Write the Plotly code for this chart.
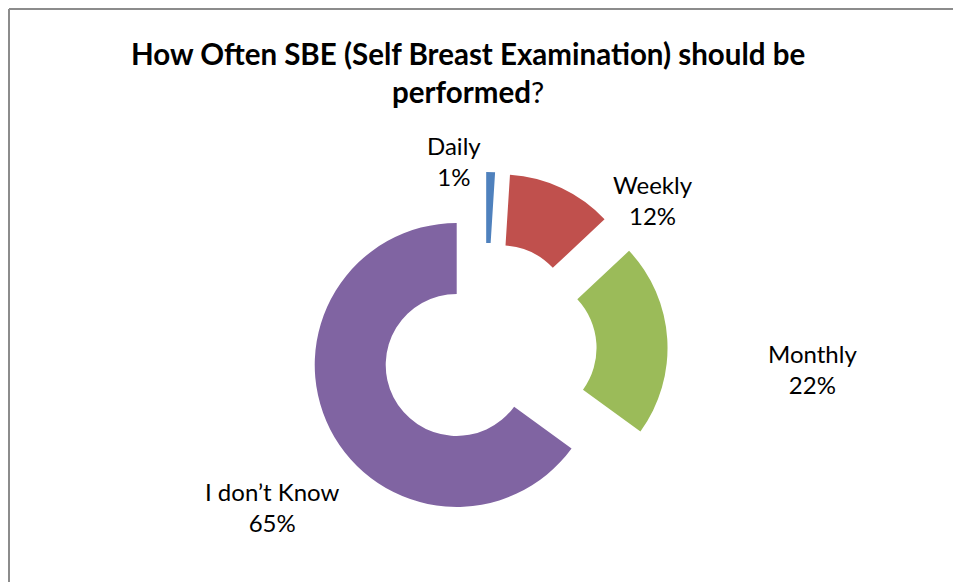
import plotly.graph_objects as go

categories = ["Daily", "Weekly", "Monthly", "I don\u2019t Know"]
values = [1, 12, 22, 65]
colors = ["#4F81BD", "#C0504D", "#9BBB59", "#8064A2"]
explode = [0.258, 0.265, 0.286, 0.224]

W, H = 961, 582
OFF = 8  # page body margin of the browser


def px(x):
    return (x - OFF) / W


def py(y):
    return 1 - (y - OFF) / H


# label centres in page pixels
label_pos = [(454, 161), (653, 200), (812, 369), (272, 507)]

fig = go.Figure()
fig.add_trace(go.Pie(
    labels=categories, values=values, sort=False, direction="clockwise", rotation=0,
    hole=0.5, pull=explode, marker=dict(colors=colors, line=dict(width=0)),
    textinfo="none", hoverinfo="label+percent", showlegend=False,
    domain=dict(x=[0.3064, 0.6864], y=[0.0978, 0.7252]),
))

font_fam = "Lato, Open Sans, sans-serif"
total = sum(values)
for cat, v, (x, y) in zip(categories, values, label_pos):
    fig.add_annotation(x=px(x), y=py(y), xref="paper", yref="paper",
                       xanchor="center", yanchor="middle",
                       text=f"{cat}<br>{round(100 * v / total)}%", showarrow=False,
                       font=dict(family=font_fam, size=24, color="#000000"),
                       align="center")

fig.add_annotation(x=px(468), y=py(72), xref="paper", yref="paper",
                   xanchor="center", yanchor="middle",
                   text="<b>How Often SBE (Self Breast Examination) should be</b><br><b>performed</b>?",
                   showarrow=False, align="center",
                   font=dict(family=font_fam, size=29.5, color="#000000"))

# chart area border (left and top edges visible)
fig.add_shape(type="line", xref="paper", yref="paper", x0=px(9), x1=1.01, y0=py(9), y1=py(9),
              line=dict(color="#8C8C8C", width=2))
fig.add_shape(type="line", xref="paper", yref="paper", x0=px(9), x1=px(9), y0=-0.01, y1=py(9),
              line=dict(color="#8C8C8C", width=2))

fig.update_layout(width=W, height=H, margin=dict(l=0, r=0, t=0, b=0),
                  paper_bgcolor="white", plot_bgcolor="white")
fig.write_html("out.html")
